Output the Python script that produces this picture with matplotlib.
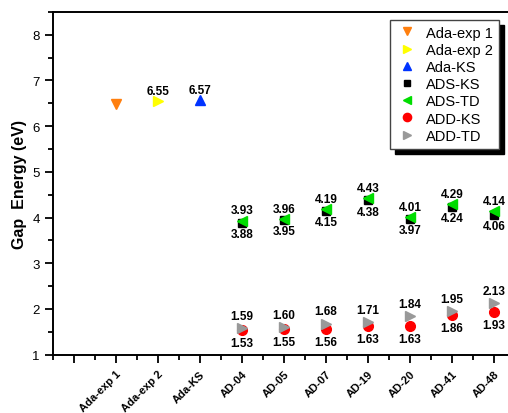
import numpy as np
import matplotlib.pyplot as plt
from matplotlib.ticker import MultipleLocator

# categories on the x axis
categories = ['Ada-exp 1', 'Ada-exp 2', 'Ada-KS', 'AD-04', 'AD-05', 'AD-07',
              'AD-19', 'AD-20', 'AD-41', 'AD-48']
ad_names = categories[3:]

# adamantane reference values
ada_exp1 = [6.49]
ada_exp2 = [6.55]
ada_ks = [6.57]

# derivative series
ads_ks = [3.88, 3.95, 4.15, 4.38, 3.97, 4.24, 4.06]
ads_td = [3.93, 3.96, 4.19, 4.43, 4.01, 4.29, 4.14]
add_ks = [1.53, 1.55, 1.56, 1.63, 1.63, 1.86, 1.93]
add_td = [1.59, 1.60, 1.68, 1.71, 1.84, 1.95, 2.13]

plt.rcParams['font.family'] = ['Liberation Sans', 'DejaVu Sans']

fig = plt.figure(figsize=(5.08, 4.14), dpi=100)
ax = fig.add_axes([0.104, 0.141, 0.91, 0.828])

xpos = {c: i + 1 for i, c in enumerate(categories)}
xd = np.array([xpos[c] for c in ad_names])

ms = 7
ax.plot([xpos['Ada-exp 1']], ada_exp1, 'v', color='#ff7f0e', ms=ms, ls='none', label='Ada-exp 1')
ax.plot([xpos['Ada-exp 2']], ada_exp2, '>', color='#ffff00', ms=ms, ls='none', label='Ada-exp 2')
ax.plot([xpos['Ada-KS']], ada_ks, '^', color='#0033ff', ms=ms, ls='none', label='Ada-KS')
ax.plot(xd, ads_ks, 's', color='black', ms=5.5, ls='none', label='ADS-KS')
ax.plot(xd, ads_td, '<', color='#00dd00', ms=ms, ls='none', label='ADS-TD')
ax.plot(xd, add_ks, 'o', color='#ff0000', ms=ms, ls='none', label='ADD-KS')
ax.plot(xd, add_td, '>', color='#999999', ms=ms, ls='none', label='ADD-TD')

# value labels: TD above, KS below
lab = dict(ha='center', fontsize=8.5, fontweight='bold')
ax.text(xpos['Ada-exp 2'], ada_exp2[0] + 0.16, '%.2f' % ada_exp2[0], va='baseline', **lab)
ax.text(xpos['Ada-KS'], ada_ks[0] + 0.16, '%.2f' % ada_ks[0], va='baseline', **lab)
for x, top, bot in zip(xd, ads_td, ads_ks):
    ax.text(x, top + 0.16, '%.2f' % top, va='baseline', **lab)
    ax.text(x, bot - 0.12, '%.2f' % bot, va='top', **lab)
for x, top, bot in zip(xd, add_td, add_ks):
    ax.text(x, top + 0.2, '%.2f' % top, va='baseline', **lab)
    ax.text(x, bot - 0.15, '%.2f' % bot, va='top', **lab)

ax.set_xlim(-0.5, 10.5)
ax.set_ylim(1, 8.5)
ax.set_xticks(range(0, 11))
ax.set_xticklabels([''] + categories, rotation=45, ha='right',
                   rotation_mode='anchor', fontsize=8, fontweight='bold')
ax.xaxis.set_minor_locator(MultipleLocator(0.5))
ax.yaxis.set_major_locator(MultipleLocator(1))
ax.yaxis.set_minor_locator(MultipleLocator(0.5))
ax.tick_params(axis='y', labelsize=9.5, width=1.3, length=6)
ax.tick_params(axis='x', width=1.3, length=6, pad=4)
ax.tick_params(which='minor', width=1.3, length=3.5)
for s in ax.spines.values():
    s.set_linewidth(1.4)
ax.spines['right'].set_visible(False)

ax.set_ylabel('Gap  Energy (eV)', fontsize=11.5, fontweight='bold', labelpad=4)

# legend with a solid black drop shadow
leg = ax.legend(loc='upper right', bbox_to_anchor=(0.965, 0.977), fontsize=10.5,
                frameon=True, fancybox=False, edgecolor='#444444', framealpha=1,
                shadow={'color': 'black', 'alpha': 1, 'ox': 3.6, 'oy': -3.6},
                handletextpad=0.5, borderpad=0.4, labelspacing=0.22,
                handlelength=1.6, borderaxespad=0, markerscale=0.85)

fig.savefig('out.png', dpi=100)
